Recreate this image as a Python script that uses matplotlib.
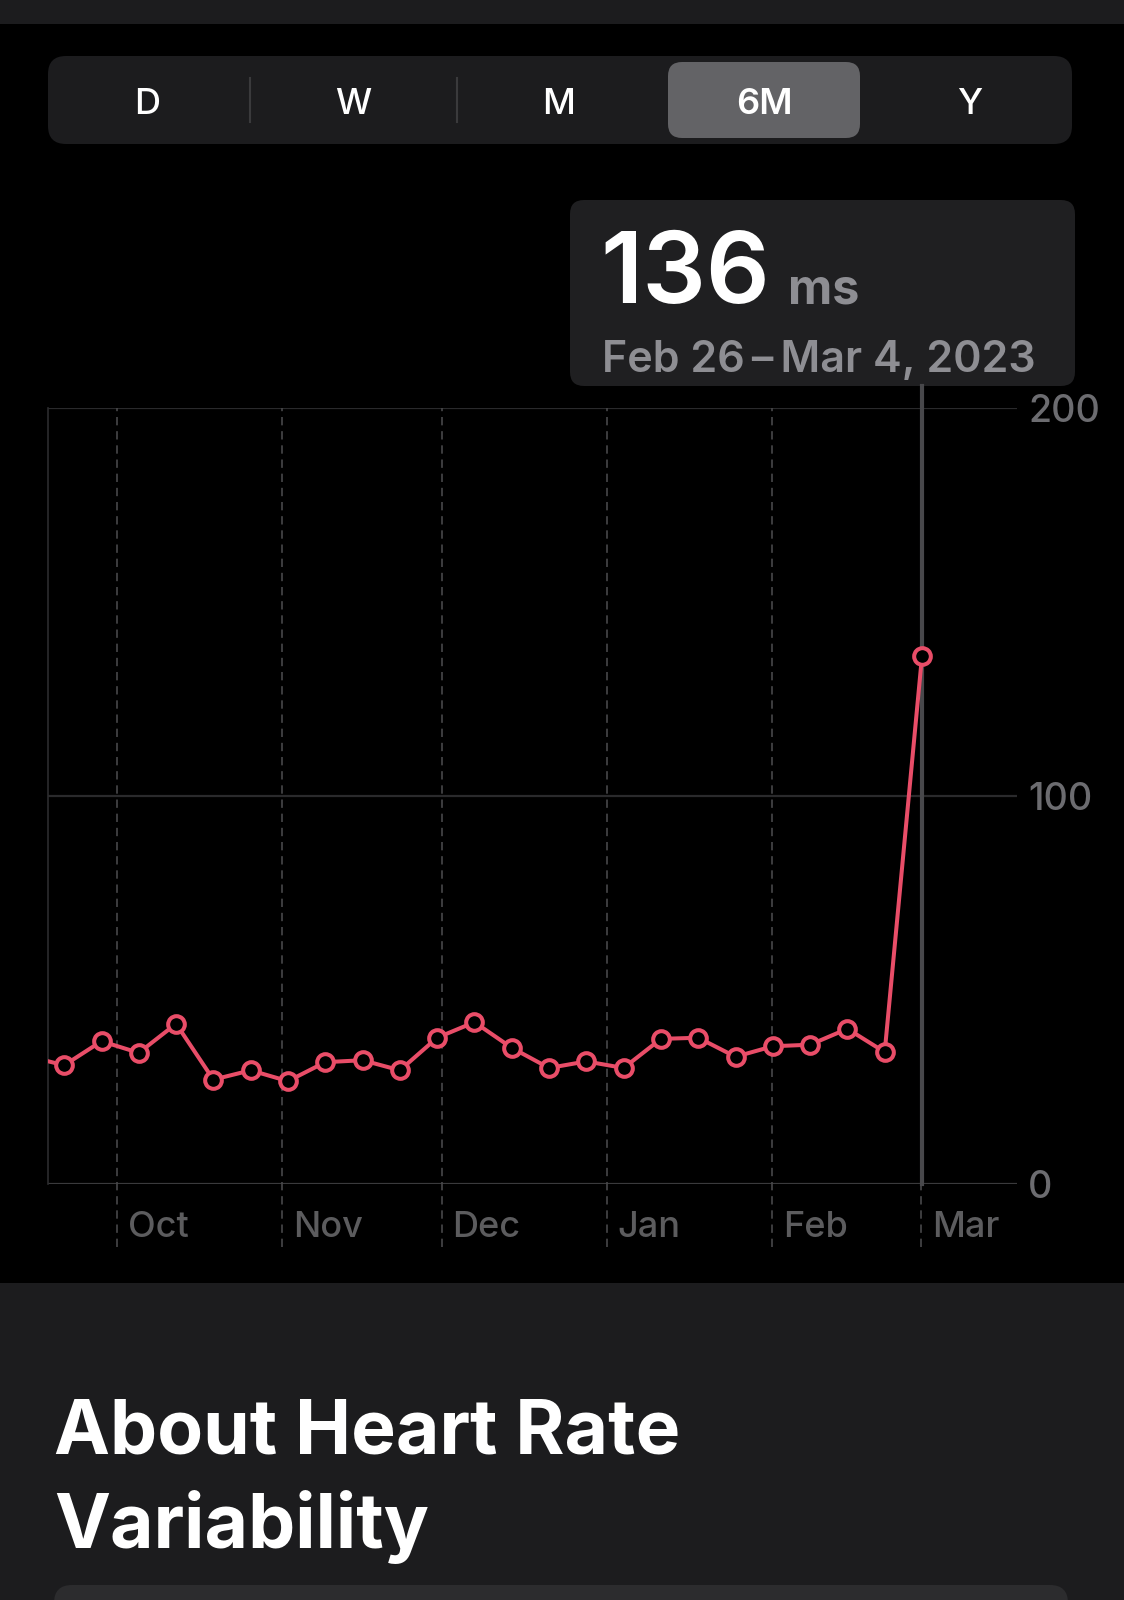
#!/usr/bin/env python
"""Heart rate variability, 6 month view (weekly averages), dark phone UI."""

import datetime as dt

import matplotlib
matplotlib.use("Agg")
import matplotlib.pyplot as plt
import matplotlib.transforms as mtransforms
from matplotlib.patches import FancyBboxPatch, Rectangle

plt.rcParams["font.family"] = ["Inter", "DejaVu Sans"]

# weekly HRV averages (ms), week starting dates
week_starts = [dt.datetime(2022, 9, 11) + dt.timedelta(weeks=i) for i in range(25)]
hrv_ms = [33, 30.6, 36.8, 33.8, 41.3, 26.9, 29.3, 26.5, 31.4, 31.9, 29.3, 37.7, 41.7,
          35.1, 29.9, 31.6, 29.9, 37.4, 37.7, 32.8, 35.5, 35.9, 40.0, 34.0, 136]
month_ticks = [dt.datetime(2022, 10, 1), dt.datetime(2022, 11, 1), dt.datetime(2022, 12, 1),
               dt.datetime(2023, 1, 1), dt.datetime(2023, 2, 1), dt.datetime(2023, 3, 1)]
month_labels = ["Oct", "Nov", "Dec", "Jan", "Feb", "Mar"]
y_ticks = [0, 100, 200]
ranges = ["D", "W", "M", "6M", "Y"]
selected_range = "6M"
selected_value = "136"
selected_label = "Feb 26\u2009\u2013\u2009Mar 4, 2023"

W, H = 1124, 1600
PINK = "#e94d68"
BG = "#1c1c1e"

fig = plt.figure(figsize=(W / 100, H / 100), dpi=100, facecolor="black")

# overlay axes in pixel coords for the UI chrome
ui = fig.add_axes([0, 0, 1, 1], zorder=0)
ui.set_xlim(0, W)
ui.set_ylim(H, 0)
ui.axis("off")

ui.add_patch(Rectangle((0, 0), W, 24, color=BG, lw=0))
ui.add_patch(Rectangle((0, 1283), W, H - 1283, color=BG, lw=0))
ui.add_patch(FancyBboxPatch((54, 1585), 1014, 60, boxstyle="round,pad=0,rounding_size=18",
                            color="#2c2c2e", lw=0))

# segmented control
ui.add_patch(FancyBboxPatch((48, 56), 1024, 88, boxstyle="round,pad=0,rounding_size=18",
                            color=BG, lw=0))
ui.add_patch(FancyBboxPatch((668, 62), 192, 76, boxstyle="round,pad=0,rounding_size=14",
                            color="#636366", lw=0))
for sx in [250, 457]:
    ui.plot([sx, sx], [78, 122], color="#3a3a3c", lw=1.5)
for lbl, cx in zip(ranges, [147, 353, 559, 764, 970]):
    ui.text(cx, 114, lbl, color="white", fontsize=26, ha="center", va="baseline",
            fontweight="semibold" if lbl == selected_range else "medium")

# tooltip
ui.add_patch(FancyBboxPatch((570, 200), 505, 186, boxstyle="round,pad=0,rounding_size=14",
                            color="#1f1f21", lw=0))
ui.text(600, 303, selected_value, color="white", fontsize=72, fontweight="semibold",
        va="baseline", ha="left")
ui.text(788, 303, "ms", color="#8e8e93", fontsize=35, fontweight="bold",
        va="baseline", ha="left")
ui.text(602, 372, selected_label, color="#8e8e93", fontsize=31, fontweight="semibold",
        va="baseline", ha="left")

# title below the chart
ui.text(54, 1453, "About Heart Rate", color="white", fontsize=54, fontweight="bold",
        va="baseline", ha="left")
ui.text(54, 1548, "Variability", color="white", fontsize=54, fontweight="bold",
        va="baseline", ha="left")

# chart axes
left, right, top, bottom = 48, 1017, 408, 1184
ax = fig.add_axes([left / W, 1 - bottom / H, (right - left) / W, (bottom - top) / H],
                  zorder=1)
ax.set_facecolor("none")

x_pts = [d + dt.timedelta(days=3, hours=4) for d in week_starts]
ax.set_xlim(dt.datetime(2022, 9, 18, 3), dt.datetime(2023, 3, 19))
ax.set_ylim(0, 200)

for s in ax.spines.values():
    s.set_visible(False)
ax.plot([0, 0], [0, 1], transform=ax.transAxes, color="#2c2c2e", lw=1.2, clip_on=False)

for yv in y_ticks:
    ax.axhline(yv, color="#3a3a3c" if yv == 0 else "#2a2a2c", lw=1.6, zorder=1)

trans = mtransforms.blended_transform_factory(ax.transData, ax.transAxes)
ext = (1247 - bottom) / (bottom - top)
for m in month_ticks[:-1]:
    ax.plot([m, m], [-ext, 1], transform=trans, color="#48484a", lw=1.2,
            dashes=(5, 3.5), clip_on=False, zorder=1)
# selected week: solid line up into the tooltip, dashed below the axis
sel = x_pts[-1]
ax.plot([sel, sel], [0, 1 + (top - 386) / (bottom - top)], transform=trans,
        color="#48484b", lw=3, clip_on=False, zorder=2)
ax.plot([month_ticks[-1], month_ticks[-1]], [-ext, 0], transform=trans, color="#48484a",
        lw=1.2, dashes=(5, 3.5), clip_on=False, zorder=1)

ax.plot(x_pts, hrv_ms, color=PINK, lw=2.9, marker="o", markersize=12,
        markerfacecolor="black", markeredgecolor=PINK, markeredgewidth=2.9, zorder=3)

ax.set_xticks([])
ax.set_yticks(y_ticks)
ax.yaxis.tick_right()
ax.tick_params(axis="y", length=0, pad=8, labelsize=27, labelcolor="#6c6c70")
for t in ax.get_yticklabels():
    t.set_fontweight("medium")

lbl_tr = mtransforms.offset_copy(trans, fig=fig, x=11, y=0, units="dots")
for m, lbl in zip(month_ticks, month_labels):
    ax.text(m, -(1237 - bottom) / (bottom - top), lbl, transform=lbl_tr, color="#5c5c5e",
            fontsize=26, fontweight="medium", ha="left", va="baseline")

fig.savefig("out.png", dpi=100, facecolor="black")
